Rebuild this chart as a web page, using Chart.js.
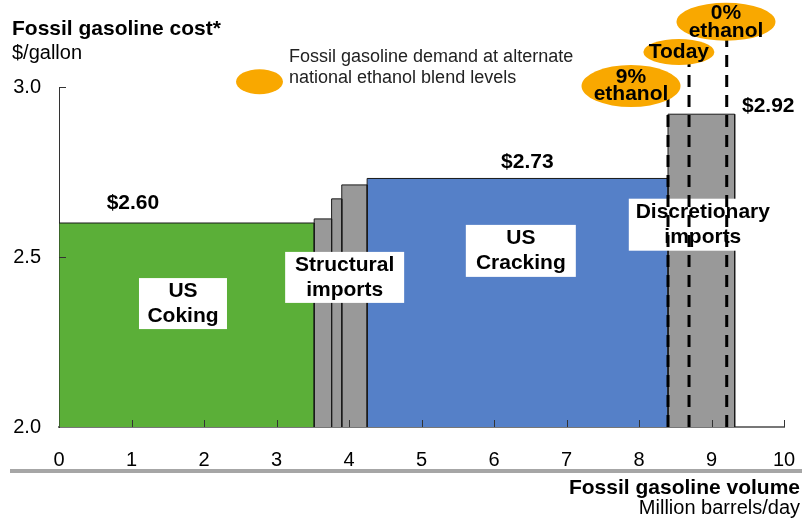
<!DOCTYPE html>
<html><head><meta charset="utf-8">
<script src="https://cdn.jsdelivr.net/npm/chart.js@4.4.1/dist/chart.umd.min.js"></script>
<style>html,body{margin:0;padding:0;background:#fff}canvas{display:block}</style>
</head><body>
<canvas id="c" width="802" height="527"></canvas>
<script>
// ---- data ----
const xTickValues = [0,1,2,3,4,5,6,7,8,9,10];
const yTickValues = [2.0, 2.5, 3.0];
const blockNames  = ['US Coking','Structural imports A','Structural imports B','Structural imports C','US Cracking','Discretionary imports'];
const blockStart  = [0.00, 3.52, 3.76, 3.90, 4.25, 8.40];
const blockEnd    = [3.52, 3.76, 3.90, 4.25, 8.40, 9.32];
const blockCost   = [2.600, 2.612, 2.671, 2.712, 2.731, 2.920];
const groupLabels = [['US','Coking'],['Structural','imports'],['US','Cracking'],['Discretionary','imports']];
const blendLabels = [['9%','ethanol'],['Today'],['0%','ethanol']];
const blendVolume = [8.40, 8.69, 9.21];
const priceBlocks = [0, 4, 5];

// ---- styles / annotation placement ----
const FONT = '"Liberation Sans", Arial, sans-serif';
const blockColors = ['#5BAF38','#999999','#999999','#999999','#5580C8','#999999'];
const groupBoxes = [
  {x:1.71, y:2.363, w:88,  h:51},
  {x:3.94, y:2.440, w:119, h:51},
  {x:6.37, y:2.518, w:110, h:52},
  {x:8.88, y:2.595, w:148, h:52}
];
const priceSpots = [
  {x:1.02, dy:-20, align:'center'},
  {x:6.46, dy:-16, align:'center'},
  {x:9.42, dy:-8,  align:'left'}
];
const ellipses = [
  {x:7.89, y:3.003, w:99, h:42, lines:[-8.5, 8.5]},
  {x:8.55, y:3.103, w:71, h:26, lines:[0.5]},
  {x:9.20, y:3.192, w:99, h:38, lines:[-9, 9]}
];
const ORANGE = '#F9A800';

const datasets = [];
blockNames.forEach((n,i)=>{
  datasets.push({
    label:n, kind:'block', order:2,
    data:[{x:blockStart[i],y:2.0},{x:blockStart[i],y:blockCost[i]},{x:blockEnd[i],y:blockCost[i]},{x:blockEnd[i],y:2.0}],
    borderColor:'#1a1a1a', borderWidth:1, backgroundColor:blockColors[i],
    fill:'start', pointRadius:0, tension:0
  });
});
blendVolume.forEach((v,i)=>{
  datasets.push({
    label:blendLabels[i].join(' '), kind:'dash', order:1, clip:false,
    data:[{x:v,y:2.0},{x:v,y:ellipses[i].y}],
    borderColor:'#000', borderWidth:3, borderDash:[12,8], fill:false, pointRadius:0
  });
});

const deco = {
  id:'deco',
  beforeDatasetsDraw(chart){ chart.$boxesDone = false; },
  beforeDatasetDraw(chart, args){
    const ds = chart.data.datasets[args.index];
    if (ds.kind === 'dash' && !chart.$boxesDone){
      chart.$boxesDone = true;
      const ctx = chart.ctx, xs = chart.scales.x, ys = chart.scales.y;
      ctx.save();
      groupBoxes.forEach((b,i)=>{
        const cx = xs.getPixelForValue(b.x), cy = ys.getPixelForValue(b.y);
        ctx.fillStyle = '#fff';
        ctx.fillRect(cx-b.w/2, cy-b.h/2, b.w, b.h);
        ctx.fillStyle = '#000';
        ctx.font = 'bold 21px ' + FONT;
        ctx.textAlign = 'center'; ctx.textBaseline = 'middle';
        ctx.fillText(groupLabels[i][0], cx, cy-12.5);
        ctx.fillText(groupLabels[i][1], cx, cy+12.5);
      });
      ctx.restore();
    }
  },
  afterDatasetsDraw(chart){
    const ctx = chart.ctx, xs = chart.scales.x, ys = chart.scales.y;
    const a = chart.chartArea;
    ctx.save();
    // inward ticks
    ctx.strokeStyle = '#333'; ctx.lineWidth = 1;
    xTickValues.forEach(v=>{ if(v===0) return; const px = Math.round(xs.getPixelForValue(v))+0.5;
      ctx.beginPath(); ctx.moveTo(px, a.bottom); ctx.lineTo(px, a.bottom-7); ctx.stroke(); });
    yTickValues.forEach(v=>{ if(v===2.0) return; const py = Math.round(ys.getPixelForValue(v))+0.5;
      ctx.beginPath(); ctx.moveTo(a.left, py); ctx.lineTo(a.left+7, py); ctx.stroke(); });
    // price labels
    ctx.fillStyle = '#000'; ctx.font = 'bold 21px ' + FONT; ctx.textBaseline = 'middle';
    priceBlocks.forEach((bi,i)=>{
      const s = priceSpots[i];
      ctx.textAlign = s.align;
      ctx.fillText('$' + blockCost[bi].toFixed(2), xs.getPixelForValue(s.x), ys.getPixelForValue(blockCost[bi]) + s.dy);
    });
    // ellipses
    ellipses.forEach((e,i)=>{
      const cx = xs.getPixelForValue(e.x), cy = ys.getPixelForValue(e.y);
      ctx.fillStyle = ORANGE;
      ctx.beginPath(); ctx.ellipse(cx, cy, e.w/2, e.h/2, 0, 0, Math.PI*2); ctx.fill();
      ctx.fillStyle = '#000'; ctx.textAlign = 'center'; ctx.textBaseline = 'middle';
      ctx.font = 'bold 21px ' + FONT;
      blendLabels[i].forEach((t,k)=> ctx.fillText(t, cx, cy + e.lines[k]));
    });
    // legend
    ctx.fillStyle = ORANGE;
    ctx.beginPath(); ctx.ellipse(259.5, 81.7, 23.5, 12.5, 0, 0, Math.PI*2); ctx.fill();
    ctx.fillStyle = '#222'; ctx.textAlign = 'left'; ctx.textBaseline = 'middle';
    ctx.font = '18px ' + FONT;
    ctx.fillText('Fossil gasoline demand at alternate', 289, 57);
    ctx.fillText('national ethanol blend levels', 289, 78);
    // titles
    ctx.fillStyle = '#000'; ctx.textBaseline = 'alphabetic';
    ctx.font = 'bold 21px ' + FONT; ctx.fillText('Fossil gasoline cost*', 12, 35);
    ctx.font = '20px ' + FONT; ctx.fillText('$/gallon', 12, 59);
    ctx.textAlign = 'right';
    ctx.font = 'bold 21px ' + FONT; ctx.fillText('Fossil gasoline volume', 800, 494);
    ctx.font = '20px ' + FONT; ctx.fillText('Million barrels/day', 800, 514);
    // rule
    ctx.strokeStyle = '#A6A6A6'; ctx.lineWidth = 4;
    ctx.beginPath(); ctx.moveTo(10, 471); ctx.lineTo(802, 471); ctx.stroke();
    ctx.restore();
  }
};

new Chart(document.getElementById('c'), {
  type:'line',
  data:{ datasets },
  options:{
    responsive:false, animation:false, devicePixelRatio:1,
    layout:{ padding:{ left:0, top:87, right:18, bottom:0 } },
    plugins:{ legend:{display:false}, tooltip:{enabled:false}, title:{display:false} },
    scales:{
      x:{ type:'linear', min:0, max:10, z:1,
          afterBuildTicks(s){ s.ticks = xTickValues.map(v=>({value:v})); },
          afterFit(s){ s.height = 100; s.paddingLeft = 0; s.paddingRight = 0; },
          grid:{ display:false, drawTicks:false },
          border:{ display:true, color:'#777', width:2 },
          ticks:{ font:{ family:FONT, size:20 }, color:'#000', padding:21, maxRotation:0, callback:v=>String(v) } },
      y:{ type:'linear', min:2.0, max:3.0, z:1,
          afterBuildTicks(s){ s.ticks = yTickValues.map(v=>({value:v})); },
          afterFit(s){ s.width = 59; s.paddingTop = 0; s.paddingBottom = 0; },
          grid:{ display:false, drawTicks:false },
          border:{ display:true, color:'#333', width:1 },
          ticks:{ font:{ family:FONT, size:20 }, color:'#000', padding:18, callback:v=>v.toFixed(1) } }
    }
  },
  plugins:[deco]
});
</script>
</body></html>
